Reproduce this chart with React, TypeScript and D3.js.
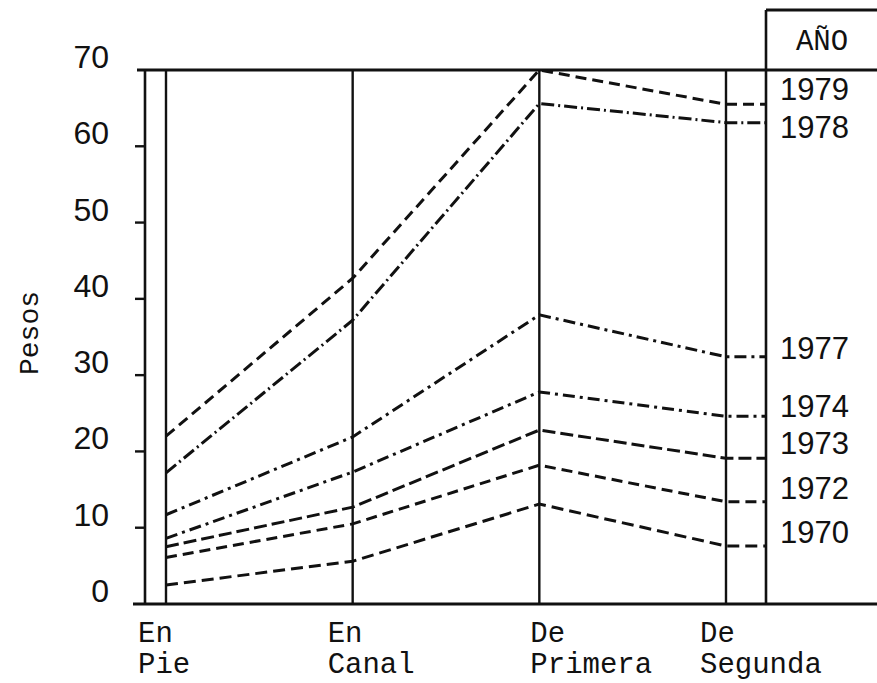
import React from "react";
import * as d3 from "d3";

const categories = ["En Pie", "En Canal", "De Primera", "De Segunda"];
const categoryLines = [["En", "Pie"], ["En", "Canal"], ["De", "Primera"], ["De", "Segunda"]];
const labelShift = [-28, -25, -9, -26];
const years = ["1979", "1978", "1977", "1974", "1973", "1972", "1970"];
const v1979 = [22.0, 42.7, 70.0, 65.5];
const v1978 = [17.2, 37.2, 65.6, 63.1];
const v1977 = [11.7, 21.9, 37.9, 32.4];
const v1974 = [8.6, 17.3, 27.8, 24.6];
const v1973 = [7.5, 12.7, 22.8, 19.1];
const v1972 = [6.1, 10.5, 18.2, 13.4];
const v1970 = [2.5, 5.6, 13.1, 7.6];
const yearLabelAt = [67.5, 62.5, 33.5, 26.0, 21.1, 15.2, 9.5];
const yTicks = [0, 10, 20, 30, 40, 50, 60, 70];
const series = [v1979, v1978, v1977, v1974, v1973, v1972, v1970];
const dashes = ["11,6", "13,4,2,4", "12,5,3,5", "12,5,3,5", "13,5", "11,6", "12,6"];

const W = 877;
const H = 683;
const x = d3.scalePoint<string>().domain(categories).range([166, 726]);
const y = d3.scaleLinear().domain([0, 70]).range([604, 70]);
const xAxisLeft = 145;
const legendX = 766;

export default function App() {
  const line = d3
    .line<[number, number]>()
    .x((d) => d[0])
    .y((d) => y(d[1]));
  const ink = "#111";
  return (
    <svg width={W} height={H} style={{ position: "absolute", left: 0, top: 0, background: "#fff" }}>
      {/* frame */}
      <line x1={137} x2={W} y1={y(70)} y2={y(70)} stroke={ink} strokeWidth={3} />
      <line x1={133} x2={W} y1={y(0)} y2={y(0)} stroke={ink} strokeWidth={3} />
      <line x1={xAxisLeft} x2={xAxisLeft} y1={y(70)} y2={y(0)} stroke={ink} strokeWidth={2.6} />
      {categories.map((c) => (
        <line key={c} x1={x(c)} x2={x(c)} y1={y(70)} y2={y(0)} stroke={ink} strokeWidth={2.4} />
      ))}
      <line x1={legendX} x2={legendX} y1={10} y2={y(0)} stroke={ink} strokeWidth={2.6} />
      <line x1={legendX} x2={W} y1={10} y2={10} stroke={ink} strokeWidth={3} />
      <text x={822} y={50} fontFamily="Liberation Mono, monospace" fontSize={29} textAnchor="middle" fill={ink}>
        AÑO
      </text>
      {/* y ticks */}
      {yTicks.map((t) => (
        <g key={t}>
          {t > 0 && t < 70 && (
            <line x1={135} x2={xAxisLeft} y1={y(t)} y2={y(t)} stroke={ink} strokeWidth={2.4} />
          )}
          <text
            x={109}
            y={y(t) - 2}
            textAnchor="end"
            fontFamily="Liberation Sans, sans-serif"
            fontSize={32}
            fill={ink}
          >
            {t}
          </text>
        </g>
      ))}
      <text
        transform={`translate(38, 333) rotate(-90)`}
        textAnchor="middle"
        fontFamily="Liberation Mono, monospace"
        fontSize={28}
        fill={ink}
      >
        Pesos
      </text>
      {/* series */}
      {series.map((s, i) => {
        const pts: [number, number][] = categories.map((c, j) => [x(c) as number, s[j]]);
        pts.push([legendX, s[s.length - 1]]);
        return (
          <path
            key={years[i]}
            d={line(pts) || ""}
            fill="none"
            stroke={ink}
            strokeWidth={3}
            strokeDasharray={dashes[i]}
          />
        );
      })}
      {years.map((yr, i) => (
        <text
          key={yr}
          x={780}
          y={y(yearLabelAt[i]) + 11}
          fontFamily="Liberation Sans, sans-serif"
          fontSize={31}
          fill={ink}
        >
          {yr}
        </text>
      ))}
      {/* category labels */}
      {categories.map((c, i) => (
        <text
          key={c}
          x={(x(c) as number) + labelShift[i]}
          fontFamily="Liberation Mono, monospace"
          fontSize={29}
          fill={ink}
        >
          <tspan x={(x(c) as number) + labelShift[i]} y={642}>
            {categoryLines[i][0]}
          </tspan>
          <tspan x={(x(c) as number) + labelShift[i]} y={673}>
            {categoryLines[i][1]}
          </tspan>
        </text>
      ))}
    </svg>
  );
}
